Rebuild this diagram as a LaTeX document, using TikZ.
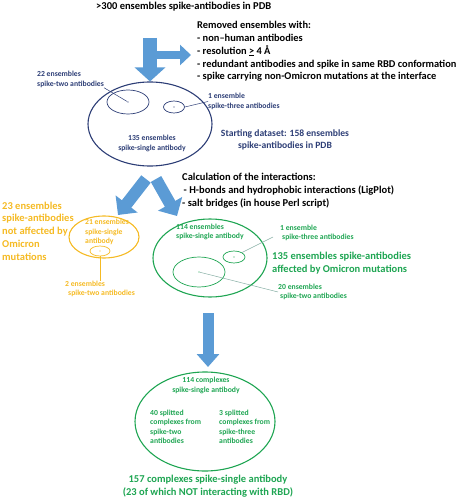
\documentclass[tikz,border=0pt]{standalone}
\usepackage{fontspec}
\setmainfont{Carlito}
\usetikzlibrary{arrows.meta,positioning,shapes.geometric}
\definecolor{navyc}{RGB}{45,62,118}
\definecolor{fatblue}{RGB}{91,155,213}
\definecolor{greenc}{RGB}{30,165,82}
\definecolor{goldc}{RGB}{245,186,35}
\definecolor{leadc}{RGB}{135,175,165}

\begin{document}
\begin{tikzpicture}[x=1pt,y=-1pt,
  big/.style={font=\fontsize{10.5}{12.7}\selectfont\bfseries,align=left,inner sep=0pt},
  small/.style={font=\fontsize{7.7}{9.5}\selectfont\bfseries,align=left,inner sep=0pt},
  set/.style={draw,ellipse,inner sep=0pt,line width=1.1pt},
  subset/.style={draw,ellipse,inner sep=0pt,line width=0.7pt},
  dot/.style={circle,fill,inner sep=0.5pt},
  lead/.style={line width=0.5pt},
  fat/.style={fatblue,line width=14pt,-{Triangle[width=30pt,length=14pt]}}]
\useasboundingbox (0,0) rectangle (462,500);

% top: removal step
\node[big,anchor=west] (title) at (96,7) {>300 ensembles spike-antibodies in PDB};
\node[big,font=\fontsize{10.4}{12.8}\selectfont\bfseries,anchor=west] (removed) at (197,51.5) {Removed ensembles with:\\
- non--human antibodies\\
- resolution \underline{>} 4 Å\\
- redundant antibodies and spike in same RBD conformation\\
- spike carrying non-Omicron mutations at the interface};

% starting dataset
\node[set,navyc,minimum width=124pt,minimum height=84pt] (start) at (150,124) {};
\node[subset,navyc,minimum width=42pt,minimum height=24pt] (two) at (128,102) {};
\node[dot,navyc] (twoc) at (two.center) {};
\node[subset,navyc,minimum width=21pt,minimum height=12pt] (three) at (174,107) {};
\node[dot,navyc] (threec) at (three.center) {};
\node[small,navyc,anchor=west] (twolab) at (37,79.5) {22 ensembles\\spike-two antibodies};
\node[small,navyc,anchor=west] (threelab) at (208,101.5) {1 ensemble\\spike-three antibodies};
\node[small,navyc,align=center] (singlelab) at (152,143.5) {135 ensembles\\spike-single antibody};
\node[big,font=\fontsize{9.6}{12}\selectfont\bfseries,navyc,align=center] (startlab) at (285,140) {Starting dataset: 158 ensembles\\spike-antibodies in PDB};
\draw[lead,navyc] (twolab.south east) -- (twoc);
\draw[lead,navyc] (three.east) -- (threelab.west);

\coordinate (top) at (150,38);
\coordinate (fork) at (150,55);
\coordinate (cut) at (191,55);
\draw[fat] (top) -- (start.north);
\draw[fat,line width=8pt,-{Triangle[width=20pt,length=11pt]}] (fork) -- (cut);

% interactions
\coordinate (lsrc) at (146,179);
\coordinate (ltip) at (118,215);
\coordinate (rsrc) at (156,179);
\coordinate (rtip) at (177,216);
\draw[fat,line width=12pt,-{Triangle[width=27pt,length=14pt]}] (lsrc) -- (ltip);
\draw[fat,line width=12pt,-{Triangle[width=27pt,length=14pt]}] (rsrc) -- (rtip);
\node[big,anchor=west] (calc) at (182,190.5) {Calculation of the interactions:\\
\hspace{1.5pt}- H-bonds and hydrophobic interactions (LigPlot)\\
- salt bridges (in house Perl script)};

% not affected
\node[set,goldc,minimum width=70pt,minimum height=42pt] (kept) at (104,237) {};
\node[subset,goldc,minimum width=20pt,minimum height=10pt] (ktwo) at (100,251) {};
\node[dot,goldc] (ktwoc) at (ktwo.center) {};
\node[small,goldc,anchor=west] (keptlab) at (85,232) {21 ensembles\\spike-single\\antibody};
\node[small,goldc,anchor=west] (ktwolab) at (65,289) {2 ensembles\\\hspace{3pt}spike-two antibodies};
\node[big,goldc,anchor=west] (keptsum) at (2,231) {23 ensembles\\spike-antibodies\\not affected by\\Omicron\\mutations};
\draw[lead,goldc] (ktwo.south) -- (ktwo.south |- ktwolab.north);

% affected
\node[set,greenc,minimum width=114pt,minimum height=78pt] (hit) at (210,258) {};
\node[subset,greenc,minimum width=52pt,minimum height=30pt] (htwo) at (199,272) {};
\node[dot,greenc] (htwoc) at (htwo.center) {};
\node[subset,greenc,minimum width=22pt,minimum height=12pt] (hthree) at (234,257) {};
\node[dot,greenc] (hthreec) at (hthree.center) {};
\node[small,greenc,anchor=west] (hitlab) at (176,232) {114 ensembles\\spike-single antibody};
\node[small,greenc,anchor=west] (hthreelab) at (280,233) {1 ensemble\\\hspace{2pt}spike-three antibodies};
\node[small,greenc,anchor=west] (htwolab) at (278,292) {20 ensembles\\\hspace{2pt}spike-two antibodies};
\node[big,greenc,anchor=west] (hitsum) at (272,263) {135 ensembles spike-antibodies\\affected by Omicron mutations};
\draw[lead,leadc] (hthree.north east) -- ([shift={(-7,4)}]hthreelab.west);
\draw[lead,leadc] (htwoc) -- (htwolab.west);

\coordinate (dsrc) at (208,313);
\coordinate (dtip) at (208,367);
\draw[fat,line width=11pt,-{Triangle[width=22pt,length=13pt]}] (dsrc) -- (dtip);

% final set
\node[set,greenc,minimum width=140pt,minimum height=99pt] (final) at (205,421.5) {};
\node[small,greenc,align=center] (finallab) at (206,385.5) {114 complexes\\spike-single antibody};
\node[small,greenc,anchor=west] (splittwo) at (150,427) {40 splitted\\complexes from\\spike-two\\antibodies};
\node[small,greenc,anchor=west] (splitthree) at (219,427) {3 splitted\\complexes from\\spike-three\\antibodies};
\node[big,greenc,align=center] (finalsum) at (208,486.5) {157 complexes spike-single antibody\\(23 of which NOT interacting with RBD)};
\end{tikzpicture}
\end{document}
